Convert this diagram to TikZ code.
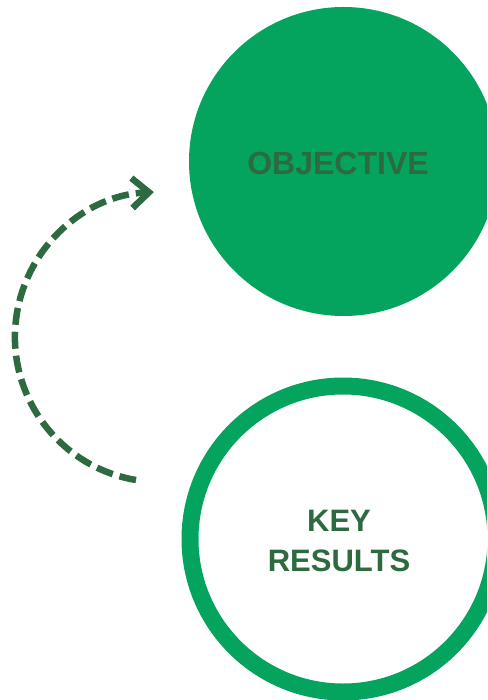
\documentclass[tikz,border=0pt]{standalone}
\usepackage{fontspec}
\setmainfont{Liberation Sans}
\usetikzlibrary{arrows.meta}
\definecolor{circgreen}{HTML}{04A45F}
\definecolor{darkgreen}{HTML}{2D6A40}
\tikzset{
  filledcirc/.style={circle, fill=circgreen, inner sep=0pt, outer sep=0pt},
  ringcirc/.style={circle, draw=circgreen, line width=17pt, fill=white, inner sep=0pt, outer sep=0pt},
  bigtext/.style={text=darkgreen, font=\bfseries\fontsize{31}{40}\selectfont, align=center, inner sep=0pt},
  cyclearrow/.style={draw=darkgreen, line width=6.5pt, dash pattern=on 17pt off 7pt,
    -{Straight Barb[length=17pt, width=30pt, line width=6.5pt]}}
}
\begin{document}
\begin{tikzpicture}[x=1pt, y=-1pt]
\useasboundingbox (0,0) rectangle (487,700);
\clip (0,0) rectangle (487,700);
\node[filledcirc, minimum size=309pt] (obj) at (343.5,161.5) {};
\node[bigtext, font=\bfseries\fontsize{32}{40}\selectfont] (objtext) at (338,163) {OBJECTIVE};
\node[ringcirc, minimum size=306pt] (kr) at (343,539) {};
\node[bigtext] (krtext) at (339,541) {KEY\\RESULTS};
\coordinate (arrstart) at (136,480);
\draw[cyclearrow] (arrstart) arc[start angle=99.5, end angle=267.6, radius=145];
\end{tikzpicture}
\end{document}
